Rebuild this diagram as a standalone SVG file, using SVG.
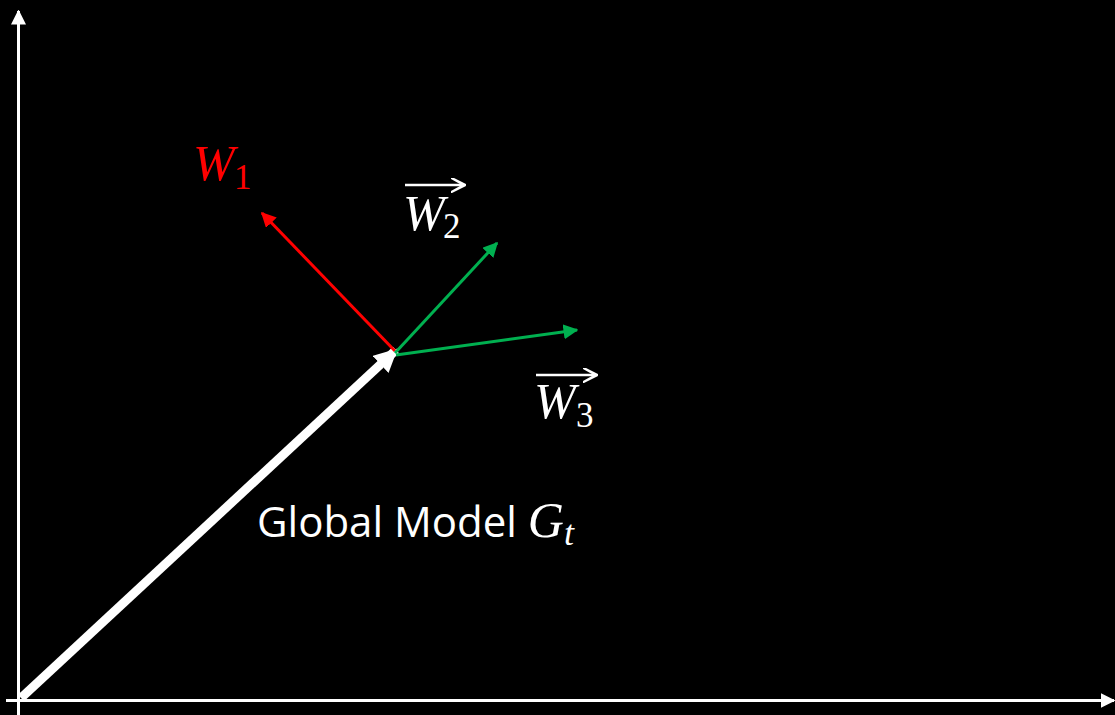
<svg xmlns="http://www.w3.org/2000/svg" width="1115" height="715" viewBox="0 0 1115 715">
<style>
.math{font-family:"Liberation Serif",serif;font-style:italic;}
.sub{font-family:"Liberation Serif",serif;font-style:normal;}
.lbl{font-family:"Open Sans","Liberation Sans",sans-serif;fill:#fff;}
</style>
<defs>
<marker id="ahw" viewBox="0 0 10 10" refX="9" refY="5" markerWidth="2.6" markerHeight="2.6" orient="auto" markerUnits="strokeWidth"><path d="M0,0 L10,5 L0,10 z" fill="#fff"/></marker>
<marker id="ahr" viewBox="0 0 10 10" refX="9" refY="5" markerWidth="5" markerHeight="5" orient="auto" markerUnits="strokeWidth"><path d="M0,0 L10,5 L0,10 z" fill="#ff0000"/></marker>
<marker id="ahg" viewBox="0 0 10 10" refX="9" refY="5" markerWidth="5" markerHeight="5" orient="auto" markerUnits="strokeWidth"><path d="M0,0 L10,5 L0,10 z" fill="#00b050"/></marker>
<marker id="ahx" viewBox="0 0 10 10" refX="9" refY="5" markerWidth="5" markerHeight="5" orient="auto" markerUnits="strokeWidth"><path d="M0,0 L10,5 L0,10 z" fill="#fff"/></marker>
<marker id="ahs" viewBox="0 0 10 10" refX="9" refY="5" markerWidth="6" markerHeight="6" orient="auto" markerUnits="strokeWidth"><path d="M0,0 L10,5 L0,10 L9,5 z" fill="none" stroke="#fff" stroke-width="1.5"/></marker>
</defs>
<rect width="1115" height="715" fill="#000"/>
<g id="axes">
<line x1="18.5" y1="715" x2="18.5" y2="11" stroke="#fff" stroke-width="3" marker-end="url(#ahx)"/>
<line x1="6" y1="700.5" x2="1114" y2="700.5" stroke="#fff" stroke-width="3" marker-end="url(#ahx)"/>
</g>
<g id="connectors">
<line x1="21" y1="698" x2="396" y2="350" stroke="#fff" stroke-width="9" marker-end="url(#ahw)"/>
<line x1="395" y1="351" x2="262" y2="213" stroke="#ff0000" stroke-width="3" marker-end="url(#ahr)"/>
<line x1="395" y1="353" x2="497" y2="243" stroke="#00b050" stroke-width="3" marker-end="url(#ahg)"/>
<line x1="396" y1="355" x2="577" y2="330" stroke="#00b050" stroke-width="3" marker-end="url(#ahg)"/>
</g>
<g id="w1">
<text x="193" y="180" class="math" font-size="50" fill="#ff0000">W</text>
<text x="234" y="189" class="sub" font-size="35" fill="#ff0000">1</text>
</g>
<g id="w2">
<line x1="405" y1="185" x2="464" y2="185" stroke="#fff" stroke-width="2.5" marker-end="url(#ahs)"/>
<text x="403" y="230" class="math" font-size="50" fill="#fff">W</text>
<text x="443" y="238" class="sub" font-size="35" fill="#fff">2</text>
</g>
<g id="w3">
<line x1="536" y1="375" x2="596" y2="375" stroke="#fff" stroke-width="2.5" marker-end="url(#ahs)"/>
<text x="534" y="418" class="math" font-size="50" fill="#fff">W</text>
<text x="576" y="427" class="sub" font-size="35" fill="#fff">3</text>
</g>
<g id="global">
<text x="257" y="537" class="lbl" font-size="42">Global Model <tspan class="math" font-size="50">G</tspan><tspan class="math" font-size="36" dy="8">t</tspan></text>
</g>
</svg>
